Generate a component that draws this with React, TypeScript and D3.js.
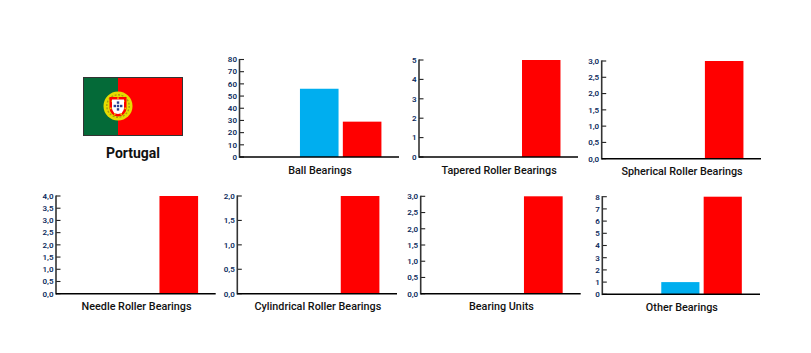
import React from "react";
import * as d3 from "d3";

const categories = ["A", "B", "C"];
const panelTitles = ["Ball Bearings", "Tapered Roller Bearings", "Spherical Roller Bearings", "Needle Roller Bearings", "Cylindrical Roller Bearings", "Bearing Units", "Other Bearings"];
const ballValues = [0, 56, 29];
const taperedValues = [0, 0, 5];
const sphericalValues = [0, 0, 3];
const needleValues = [0, 0, 4];
const cylindricalValues = [0, 0, 2];
const unitsValues = [0, 0, 3];
const otherValues = [0, 1, 8];
const ballTicks = [0, 10, 20, 30, 40, 50, 60, 70, 80];
const taperedTicks = [0, 1, 2, 3, 4, 5];
const sphericalTicks = [0, 0.5, 1, 1.5, 2, 2.5, 3];
const needleTicks = [0, 0.5, 1, 1.5, 2, 2.5, 3, 3.5, 4];
const cylindricalTicks = [0, 0.5, 1, 1.5, 2];
const unitsTicks = [0, 0.5, 1, 1.5, 2, 2.5, 3];
const otherTicks = [0, 1, 2, 3, 4, 5, 6, 7, 8];
const barColors = ["#00aeef", "#00aeef", "#ff0000"];
const FONT = "Roboto, sans-serif";

type P = { x: number; right: number; top: number; base: number; title: string; values: number[]; ticks: number[]; dec: boolean; shift: number };
const panels: P[] = [
  { x: 239.5, right: 399, top: 59.5, base: 157, title: panelTitles[0], values: ballValues, ticks: ballTicks, dec: false, shift: 0 },
  { x: 419, right: 578, top: 60, base: 157, title: panelTitles[1], values: taperedValues, ticks: taperedTicks, dec: false, shift: 0 },
  { x: 601.7, right: 761, top: 61, base: 158.7, title: panelTitles[2], values: sphericalValues, ticks: sphericalTicks, dec: true, shift: 0 },
  { x: 56, right: 215.7, top: 196, base: 293.7, title: panelTitles[3], values: needleValues, ticks: needleTicks, dec: true, shift: 0 },
  { x: 237.3, right: 397, top: 196, base: 293.7, title: panelTitles[4], values: cylindricalValues, ticks: cylindricalTicks, dec: true, shift: 0 },
  { x: 420.7, right: 580.7, top: 196.3, base: 293.7, title: panelTitles[5], values: unitsValues, ticks: unitsTicks, dec: true, shift: -0.4 },
  { x: 602.3, right: 760, top: 196.7, base: 294.3, title: panelTitles[6], values: otherValues, ticks: otherTicks, dec: false, shift: -0.8 },
];

function Panel({ p }: { p: P }) {
  const xs = d3.scaleBand<string>().domain(categories).range([p.x + p.shift, p.right + p.shift]).paddingInner(0.1).paddingOuter(0.41);
  const ys = d3.scaleLinear().domain([0, p.ticks[p.ticks.length - 1]]).range([p.base, p.top]);
  return (
    <g>
      {p.values.map((v, i) => v > 0 && (
        <rect key={i} x={xs(categories[i])} y={ys(v)} width={xs.bandwidth()} height={p.base - ys(v)} fill={barColors[i]} />
      ))}
      {p.ticks.map((t) => (
        <g key={t}>
          <line x1={p.x} x2={p.x + 4.5} y1={ys(t)} y2={ys(t)} stroke="#222" strokeWidth={1.1} />
          <text x={p.x - 2.5} y={ys(t) + 2.8} textAnchor="end" fontFamily={FONT} fontWeight={600} fontSize={8} fill="#0b2a5c">
            {p.dec ? t.toFixed(1).replace(".", ",") : t}
          </text>
        </g>
      ))}
      <line x1={p.x} x2={p.x} y1={p.top - 0.6} y2={p.base + 0.8} stroke="#333" strokeWidth={1.6} />
      <line x1={p.x} x2={p.right} y1={p.base} y2={p.base} stroke="#000" strokeWidth={1.6} />
      <text x={(p.x + p.right) / 2 + 0.7} y={p.base + 16.6} textAnchor="middle" fontFamily={FONT} fontWeight={500} fontSize={10.8} fill="#111">
        {p.title}
      </text>
    </g>
  );
}

function Flag() {
  const cx = 118, cy = 106;
  const castles = d3.range(7).map((i) => {
    const a = (i / 7) * 2 * Math.PI - Math.PI / 2;
    return [cx + 7.4 * Math.cos(a), cy + 0.5 + 8.4 * Math.sin(a)];
  });
  return (
    <g>
      <rect x={83.5} y={77.5} width={99} height={58} fill="#ff0000" stroke="#333" strokeWidth={1} />
      <rect x={84} y={78} width={34} height={57} fill="#046a38" />
      <circle cx={cx} cy={cy} r={14.5} fill="#e6dc00" />
      <circle cx={cx} cy={cy} r={11.2} fill="none" stroke="#a89c10" strokeWidth={1.4} strokeDasharray="2 1.5" />
      <path d={`M${cx - 8.5},${cy - 9} h17 v11 a8.5,8.5 0 0 1 -17,0 z`} fill="#ff0000" />
      {castles.map(([x, y], i) => <rect key={i} x={x - 0.8} y={y - 0.8} width={1.6} height={1.6} fill="#e6c800" />)}
      <path d={`M${cx - 6},${cy - 6.5} h12 v8.5 a6,6 0 0 1 -12,0 z`} fill="#fff" />
      {[[0, -3.4], [-3.2, 0], [0, 0], [3.2, 0], [0, 3.4]].map(([dx, dy], i) => (
        <rect key={i} x={cx + dx - 1.2} y={cy + dy - 1.2} width={2.4} height={2.4} fill="#2a3f8f" />
      ))}
    </g>
  );
}

export default function App() {
  return (
    <svg width={811} height={353} style={{ position: "absolute", left: 0, top: 0, background: "#fff" }}>
      <Flag />
      <text x={133} y={158} textAnchor="middle" fontFamily={FONT} fontWeight={700} fontSize={14} fill="#111">Portugal</text>
      {panels.map((p) => <Panel key={p.title} p={p} />)}
    </svg>
  );
}
